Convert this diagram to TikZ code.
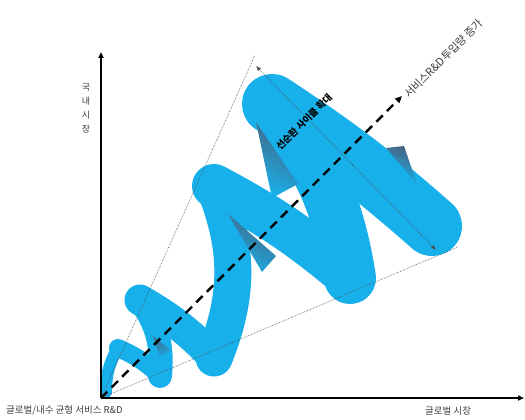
\documentclass[tikz,border=0pt]{standalone}
\usepackage{fontspec}
\setmainfont{Noto Sans CJK KR}
\usetikzlibrary{arrows.meta}
\definecolor{spir}{RGB}{24,176,234}
\definecolor{fold}{RGB}{70,100,130}
\definecolor{lbl}{RGB}{60,60,60}
\begin{document}
\begin{tikzpicture}[x=1pt,y=-1pt,
  axisline/.style={line width=1.6pt,-{Triangle[length=6pt,width=5pt]}},
  coil/.style={spir,line cap=round},
  conedot/.style={densely dotted,line width=0.6pt,black!70},
  lab/.style={font=\fontsize{9.5pt}{11pt}\selectfont,text=lbl,inner sep=0pt}]
\useasboundingbox (0,0) rectangle (525,420);
% key points
\coordinate (O) at (101,398);
\coordinate (ytop) at (101,52);
\coordinate (xend) at (524,398);
\coordinate (D) at (402,96);
\coordinate (A) at (255,55);
\coordinate (Bc) at (458,247);
\coordinate (C1) at (256,66);
\coordinate (C2) at (436,250);
% coil turning points
\coordinate (S) at (106,392);
\coordinate (T1) at (118,348);
\coordinate (B1) at (160,376);
\coordinate (T2) at (140,300);
\coordinate (B2) at (214,358);
\coordinate (T3) at (214,186);
\coordinate (B3) at (350,278);
\coordinate (T4) at (272,104);
\coordinate (B4) at (432,226);
% coil strokes
\draw[coil,line width=12pt] (S) to[bend left=15] (T1);
\draw[coil,line width=18pt] (T1) to[bend left=10] (B1);
\draw[coil,line width=24pt] (B1) to[bend right=20] (T2);
\draw[coil,line width=31pt] (T2) to[bend left=8] (B2);
\draw[coil,line width=37pt] (B2) to[bend right=22] (T3);
\draw[coil,line width=44pt] (T3) to[bend left=6] (B3);
\draw[coil,line width=52pt] (B3) to[bend right=15] (T4);
\draw[coil,line width=60pt] (T4) to[bend left=4] (B4);
% fold shadows
\shade[top color=fold,bottom color=spir,shading angle=-30] (256,122) -- (298,184) -- (272,198) -- cycle;
\shade[top color=fold,bottom color=spir,shading angle=-30] (228,214) -- (276,256) -- (262,272) -- cycle;
\shade[top color=fold,bottom color=spir,shading angle=-20] (386,148) -- (404,146) -- (417,184) -- cycle;
\shade[top color=fold,bottom color=spir] (153,336) -- (170,350) -- (160,358) -- cycle;
% cone and cross lines
\draw[conedot] (O) -- (A);
\draw[conedot] (O) -- (Bc);
\draw[conedot,{Latex[length=5pt,width=4pt]}-{Latex[length=5pt,width=4pt]}] (C1) -- (C2);
% axes
\draw[axisline] (O) -- (ytop);
\draw[axisline] (O) -- (xend);
% main dashed arrow
\draw[line width=2.4pt,dash pattern=on 9pt off 6pt,-{Triangle[length=7pt,width=6pt]}] (O) -- (D);
% labels
\node[lab,font=\fontsize{11pt}{12pt}\selectfont,rotate=45,anchor=west] (lgrow) at (406,96) {서비스R\&D투입량 증가};
\node[font=\bfseries\fontsize{9.5pt}{11pt}\selectfont,rotate=45,inner sep=0pt] (lcyc) at (304,122) {선순환 사이클 확대};
\node[lab,align=center,font=\fontsize{9pt}{14pt}\selectfont] (ly) at (86,108) {국\\내\\시\\장};
\node[lab,anchor=west] (lx) at (425,411) {글로벌 시장};
\node[lab,anchor=west] (lo) at (6,410) {글로벌/내수 균형 서비스 R\&D};
\end{tikzpicture}
\end{document}
